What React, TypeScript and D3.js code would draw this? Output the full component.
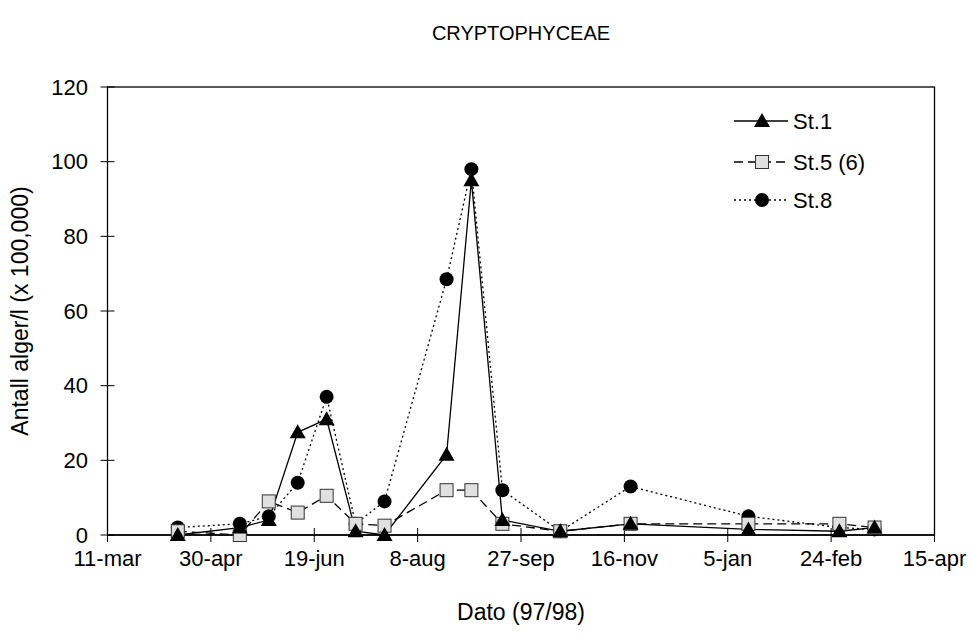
import * as d3 from "d3";

const dates = [
  "1997-04-14", "1997-05-14", "1997-05-28", "1997-06-11", "1997-06-25",
  "1997-07-09", "1997-07-23", "1997-08-22", "1997-09-03", "1997-09-18",
  "1997-10-16", "1997-11-19", "1998-01-15", "1998-02-28", "1998-03-17",
];
const st1 = [0, 2, 4, 27.5, 31, 1, 0, 21.5, 95, 4, 1, 3, 1.5, 1, 2];
const st5 = [1, 0, 9, 6, 10.5, 3, 2.5, 12, 12, 3, 1, 3, 3, 3, 2];
const st8 = [2, 3, 5, 14, 37, 3, 9, 68.5, 98, 12, 1, 13, 5, 2, 1.5];

const tickDates = [
  "1997-03-11", "1997-04-30", "1997-06-19", "1997-08-08", "1997-09-27",
  "1997-11-16", "1998-01-05", "1998-02-24", "1998-04-15",
];
const yTicks = [0, 20, 40, 60, 80, 100, 120];

const seriesNames = ["St.1", "St.5 (6)", "St.8"];

const W = 971;
const H = 637;
const margin = { top: 87, right: 36.5, bottom: 102, left: 107.5 };
const font = "'Liberation Sans', Arial, sans-serif";
const fs = 22;

export default function App() {
  const parse = (s: string) => new Date(s + "T00:00:00Z");
  const x = d3
    .scaleUtc()
    .domain([parse(tickDates[0]), parse(tickDates[tickDates.length - 1])])
    .range([margin.left, W - margin.right]);
  const y = d3
    .scaleLinear()
    .domain([0, 120])
    .range([H - margin.bottom, margin.top]);
  const fmt = d3.utcFormat("%-d-%b");

  const series = [st1, st5, st8].map((vals) =>
    vals.map((v, i) => ({ d: parse(dates[i]), v }))
  );
  const line = d3
    .line<{ d: Date; v: number }>()
    .x((p) => x(p.d))
    .y((p) => y(p.v));

  const dashes = [undefined, "9,5", "2,3"];
  const x0 = margin.left;
  const x1 = W - margin.right;
  const y0 = H - margin.bottom;
  const y1 = margin.top;

  const marker = (k: number, cx: number, cy: number, key: string) => {
    if (k === 0) {
      const s = 8;
      return (
        <path
          key={key}
          d={`M${cx},${cy - s}L${cx + s},${cy + s * 0.75}L${cx - s},${cy + s * 0.75}Z`}
          fill="#000"
        />
      );
    }
    if (k === 1) {
      return (
        <rect
          key={key}
          x={cx - 6.5}
          y={cy - 6.5}
          width={13}
          height={13}
          fill="#e0e0e0"
          stroke="#333"
          strokeWidth={1}
        />
      );
    }
    return <circle key={key} cx={cx} cy={cy} r={7} fill="#000" />;
  };

  return (
    <svg
      width={W}
      height={H}
      style={{ position: "absolute", left: 0, top: 0, background: "#fff" }}
      fontFamily={font}
    >
      <rect x={0} y={0} width={W} height={H} fill="#fff" />
      <text x={(x0 + x1) / 2} y={33} dy="0.35em" textAnchor="middle" fontSize={20}>
        CRYPTOPHYCEAE
      </text>

      {/* plot frame */}
      <rect x={x0} y={y1} width={x1 - x0} height={y0 - y1} fill="none" stroke="#000" strokeWidth={1.3} />

      {/* y axis */}
      {yTicks.map((t) => (
        <g key={"y" + t}>
          <line x1={x0 - 7} x2={x0 + 7} y1={y(t)} y2={y(t)} stroke="#000" strokeWidth={1} />
          <text x={88} y={y(t)} dy="0.35em" textAnchor="end" fontSize={fs}>
            {t}
          </text>
        </g>
      ))}

      {/* x axis */}
      {tickDates.map((s) => (
        <g key={s}>
          <line x1={x(parse(s))} x2={x(parse(s))} y1={y0 - 7} y2={y0 + 7} stroke="#000" strokeWidth={1} />
          <text x={x(parse(s))} y={558} dy="0.35em" textAnchor="middle" fontSize={fs}>
            {fmt(parse(s)).toLowerCase()}
          </text>
        </g>
      ))}
      <line x1={x0} x2={x1} y1={y0} y2={y0} stroke="#000" strokeWidth={1.5} />

      <text x={(x0 + x1) / 2} y={612} dy="0.35em" textAnchor="middle" fontSize={23}>
        Dato (97/98)
      </text>
      <text
        transform={`translate(28,${(y0 + y1) / 2}) rotate(-90)`}
        textAnchor="middle"
        fontSize={23}
      >
        Antall alger/l (x 100,000)
      </text>

      {/* series */}
      {series.map((pts, k) => (
        <path
          key={"l" + k}
          d={line(pts) || ""}
          fill="none"
          stroke="#000"
          strokeWidth={1.3}
          strokeDasharray={dashes[k]}
        />
      ))}
      {[2, 1, 0].map((k) =>
        series[k].map((p, i) => marker(k, x(p.d), y(p.v), `m${k}-${i}`))
      )}

      {/* legend */}
      {seriesNames.map((n, k) => {
        const ly = [121, 162, 200][k];
        return (
          <g key={n}>
            <line x1={734} x2={788} y1={ly} y2={ly} stroke="#000" strokeWidth={1.3} strokeDasharray={dashes[k]} />
            {marker(k, 762, ly, "lg" + k)}
            <text x={793} y={ly} dy="0.35em" fontSize={fs}>
              {n}
            </text>
          </g>
        );
      })}
    </svg>
  );
}
